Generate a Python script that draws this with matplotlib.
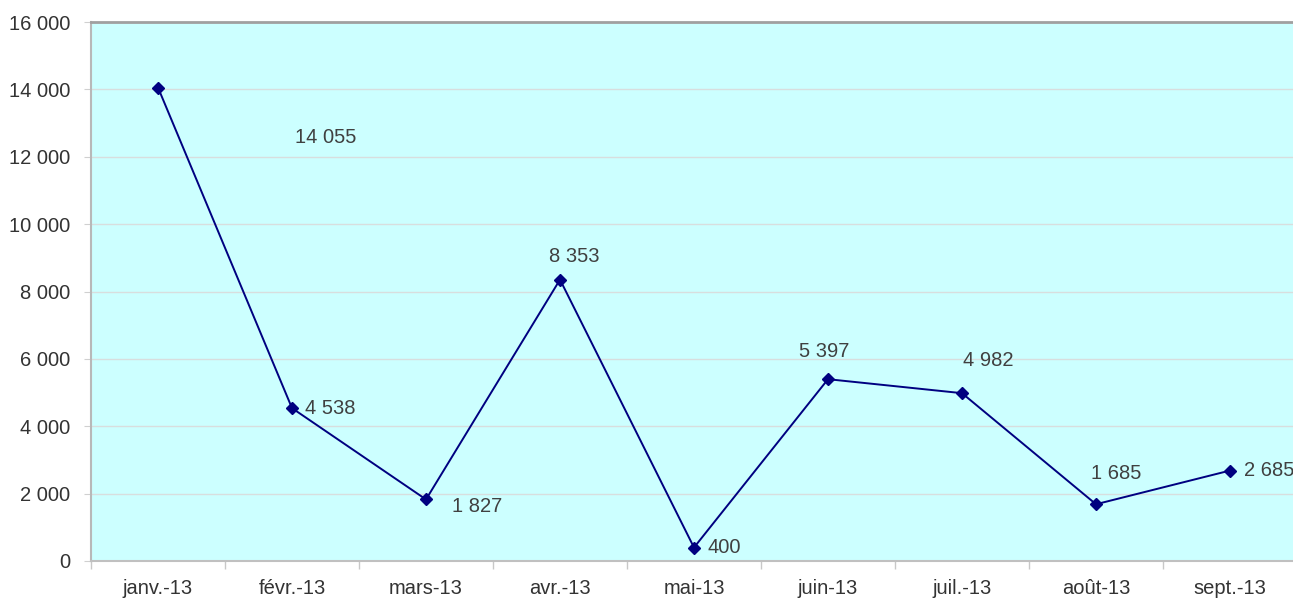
import numpy as np
import matplotlib.pyplot as plt
from matplotlib.ticker import FuncFormatter

plt.rcParams['font.family'] = ['Liberation Sans', 'DejaVu Sans']

months = ['janv.-13', 'févr.-13', 'mars-13', 'avr.-13', 'mai-13',
          'juin-13', 'juil.-13', 'août-13', 'sept.-13']
values = [14055, 4538, 1827, 8353, 400, 5397, 4982, 1685, 2685]
labels = ['14 055', '4 538', '1 827', '8 353', '400', '5 397', '4 982', '1 685', '2 685']

# label offsets in pixels (dx, dy)
offsets = [(168, -50), (38, 0), (51, -7), (14, 23), (30, 0),
           (-4, 28), (26, 33), (20, 31), (39, 0)]

fig = plt.figure(figsize=(12.93, 6.01), dpi=100)
ax = fig.add_axes([91/1293, 40/601, 1206/1293, 539/601])
ax.set_facecolor('#CCFFFF')

x = np.arange(len(months))
ax.plot(x, values, color='#000080', lw=1.4, marker='D', ms=6.5, zorder=3)

for xi, v, lab, (dx, dy) in zip(x, values, labels, offsets):
    ax.annotate(lab, (xi, v), xytext=(dx, dy), textcoords='offset pixels',
                ha='center', va='center', fontsize=14.5, color='#404040')

ax.set_xlim(-0.5, len(months) - 0.5)
ax.set_ylim(0, 16000)
ax.set_yticks(np.arange(0, 16001, 2000))
ax.yaxis.set_major_formatter(FuncFormatter(lambda v, p: f'{int(v):,}'.replace(',', ' ')))
ax.grid(axis='y', color='#d8dede', lw=1)
ax.set_axisbelow(True)

ax.set_xticks(x)
ax.set_xticklabels(months)
ax.set_xticks(np.arange(-0.5, len(months), 1), minor=True)
ax.tick_params(axis='x', which='major', length=0, pad=13, labelsize=14.5, labelcolor='#333333')
ax.tick_params(axis='x', which='minor', length=6, color='#c8c8c8', width=1)
ax.tick_params(axis='y', length=5, color='#d0d0d0', pad=10, labelsize=14.5, labelcolor='#333333')

ax.spines['top'].set_color('#a0a0a0')
ax.spines['top'].set_linewidth(2)
ax.spines['left'].set_color('#b8b8b8')
ax.spines['left'].set_linewidth(1.5)
ax.spines['bottom'].set_color('#c0c0c0')
ax.spines['bottom'].set_linewidth(1.5)
ax.spines['right'].set_visible(False)

fig.savefig('out.png', dpi=100)
